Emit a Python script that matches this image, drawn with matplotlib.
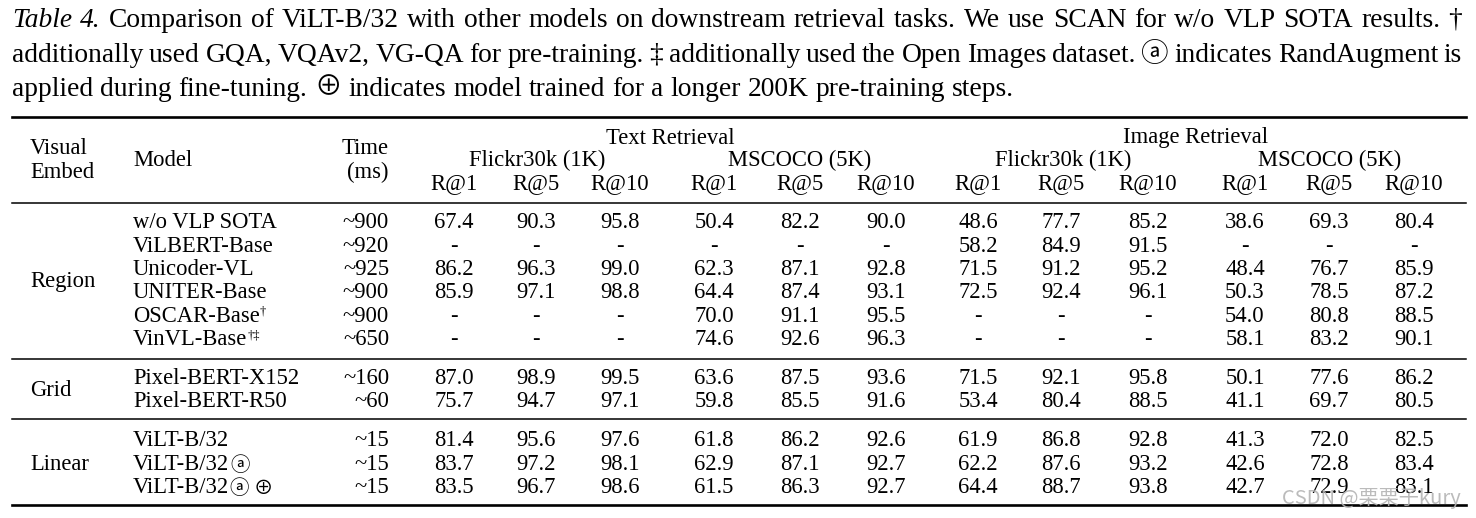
import matplotlib
matplotlib.use('Agg')
import matplotlib.pyplot as plt

SERIF = ['Liberation Serif', 'Noto Sans CJK SC', 'DejaVu Sans']
SYMB = ['Noto Sans CJK SC', 'DejaVu Sans']

caption_lines = [
    "Table 4. Comparison of ViLT-B/32 with other models on downstream retrieval tasks.  We use SCAN for w/o VLP SOTA results. \u2020",
    "additionally used GQA, VQAv2, VG-QA for pre-training. \u2021 additionally used the Open Images dataset. \u24d0 indicates RandAugment is",
    "applied during fine-tuning. \u2295 indicates model trained for a longer 200K pre-training steps.",
]

groups = ['Region', 'Grid', 'Linear']
group_sizes = [6, 2, 3]
models = ['w/o VLP SOTA', 'ViLBERT-Base', 'Unicoder-VL', 'UNITER-Base', 'OSCAR-Base', 'VinVL-Base',
          'Pixel-BERT-X152', 'Pixel-BERT-R50', 'ViLT-B/32', 'ViLT-B/32', 'ViLT-B/32']
model_sup = ['', '', '', '', '\u2020', '\u2020\u2021', '', '', '', '', '']
model_circ = ['', '', '', '', '', '', '', '', '', '\u24d0', '\u24d0\u2295']
times = ['~900', '~920', '~925', '~900', '~900', '~650', '~160', '~60', '~15', '~15', '~15']

# Text retrieval: Flickr30k R@1,R@5,R@10 then MSCOCO R@1,R@5,R@10
text_ret = [
    [67.4, 90.3, 95.8, 50.4, 82.2, 90.0],
    [None, None, None, None, None, None],
    [86.2, 96.3, 99.0, 62.3, 87.1, 92.8],
    [85.9, 97.1, 98.8, 64.4, 87.4, 93.1],
    [None, None, None, 70.0, 91.1, 95.5],
    [None, None, None, 74.6, 92.6, 96.3],
    [87.0, 98.9, 99.5, 63.6, 87.5, 93.6],
    [75.7, 94.7, 97.1, 59.8, 85.5, 91.6],
    [81.4, 95.6, 97.6, 61.8, 86.2, 92.6],
    [83.7, 97.2, 98.1, 62.9, 87.1, 92.7],
    [83.5, 96.7, 98.6, 61.5, 86.3, 92.7],
]
# Image retrieval: same layout
image_ret = [
    [48.6, 77.7, 85.2, 38.6, 69.3, 80.4],
    [58.2, 84.9, 91.5, None, None, None],
    [71.5, 91.2, 95.2, 48.4, 76.7, 85.9],
    [72.5, 92.4, 96.1, 50.3, 78.5, 87.2],
    [None, None, None, 54.0, 80.8, 88.5],
    [None, None, None, 58.1, 83.2, 90.1],
    [71.5, 92.1, 95.8, 50.1, 77.6, 86.2],
    [53.4, 80.4, 88.5, 41.1, 69.7, 80.5],
    [61.9, 86.8, 92.8, 41.3, 72.0, 82.5],
    [62.2, 87.6, 93.2, 42.6, 72.8, 83.4],
    [64.4, 88.7, 93.8, 42.7, 72.9, 83.1],
]
metrics = ['R@1', 'R@5', 'R@10']
datasets = ['Flickr30k (1K)', 'MSCOCO (5K)']
tasks = ['Text Retrieval', 'Image Retrieval']

# layout (pixels)
W, H = 1476, 518
col_x = [454, 536, 620, 714, 800, 886, 978, 1061, 1148, 1245, 1329, 1414]
x_embed, x_model, x_time = 30, 133, 389
row_y0, row_h = 228.5, 23.3
x_left, x_right = 12, 1466
FS = 16.3

fig = plt.figure(figsize=(W / 100, H / 100), dpi=100)
ax = fig.add_axes([0, 0, 1, 1])
ax.set_xlim(0, W)
ax.set_ylim(H, 0)
ax.axis('off')
r = fig.canvas.get_renderer()


def width(t):
    return t.get_window_extent(renderer=r).width


# caption, justified
cap_fs = 10
probe = ax.text(0, 0, caption_lines[0], fontsize=cap_fs, family=SERIF)
cap_fs = cap_fs * 1430 / width(probe)
probe.remove()
space = cap_fs * 100 / 72 * 0.25
cap_base = [27, 61.5, 95.5]
for li, line in enumerate(caption_lines):
    words = line.split()
    arts = []
    for wi, w in enumerate(words):
        style = 'italic' if (li == 0 and wi < 2) else 'normal'
        arts.append(ax.text(0, cap_base[li], w, fontsize=cap_fs, family=SERIF,
                            style=style, va='baseline', ha='left'))
    ws = [width(a) for a in arts]
    if li < 2:
        gap = (1462 - 12 - sum(ws)) / (len(ws) - 1)
    else:
        gap = space
    x = 12
    for a, w in zip(arts, ws):
        a.set_x(x)
        x += w + gap

# rules
ax.plot([x_left, x_right], [117, 117], color='black', lw=1.9)
ax.plot([x_left, x_right], [203, 203], color='black', lw=1.1)
ax.plot([x_left, x_right], [359, 359], color='black', lw=1.1)
ax.plot([x_left, x_right], [419, 419], color='black', lw=1.1)
ax.plot([x_left, x_right], [504.5, 504.5], color='black', lw=1.9)

# header
ax.text(x_embed, 153.5, 'Visual', fontsize=FS, family=SERIF, va='baseline')
ax.text(x_embed, 178.5, 'Embed', fontsize=FS, family=SERIF, va='baseline')
ax.text(x_model, 166.5, 'Model', fontsize=FS, family=SERIF, va='baseline')
ax.text(x_time, 154.5, 'Time', fontsize=FS, family=SERIF, va='baseline', ha='right')
ax.text(x_time, 178.5, '(ms)', fontsize=FS, family=SERIF, va='baseline', ha='right')
for ti, task in enumerate(tasks):
    cx = (col_x[ti * 6] + col_x[ti * 6 + 5]) / 2
    ax.text(cx, 143.5, task, fontsize=FS, family=SERIF, va='baseline', ha='center')
    for di, ds in enumerate(datasets):
        k = ti * 6 + di * 3
        ax.text((col_x[k] + col_x[k + 2]) / 2, 166.5, ds, fontsize=FS, family=SERIF,
                va='baseline', ha='center')
        for mi, m in enumerate(metrics):
            ax.text(col_x[k + mi], 189.5, m, fontsize=FS, family=SERIF, va='baseline', ha='center')

# body
rows_y = []
y = row_y0
for gi, n in enumerate(group_sizes):
    if gi > 0:
        y += 39 - row_h
    ys = []
    for _ in range(n):
        ys.append(y)
        y += row_h
    rows_y.extend(ys)
    ax.text(x_embed, (ys[0] + ys[-1]) / 2, groups[gi], fontsize=FS, family=SERIF, va='baseline')

for i, name in enumerate(models):
    yb = rows_y[i]
    t = ax.text(x_model, yb, name, fontsize=FS, family=SERIF, va='baseline')
    xe = x_model + width(t)
    if model_sup[i]:
        ax.text(xe, yb - 7, model_sup[i], fontsize=9, family=SERIF, va='baseline')
    if model_circ[i]:
        ax.text(xe + 1, yb + 1, ' '.join(model_circ[i]), fontsize=14, family=SYMB, va='baseline')
    ax.text(x_time, yb, times[i], fontsize=FS, family=SERIF, va='baseline', ha='right')
    vals = text_ret[i] + image_ret[i]
    for c, v in enumerate(vals):
        s = '-' if v is None else f'{v:.1f}'
        ax.text(col_x[c], yb, s, fontsize=FS, family=SERIF, va='baseline', ha='center')

# watermark
ax.text(1461, 504, 'CSDN @栗栗子kury', fontsize=14.5, color='#b4b4b4', ha='right', va='baseline',
        family=['Noto Sans CJK SC', 'DejaVu Sans'], alpha=0.9)

fig.savefig('out.png', dpi=100)
